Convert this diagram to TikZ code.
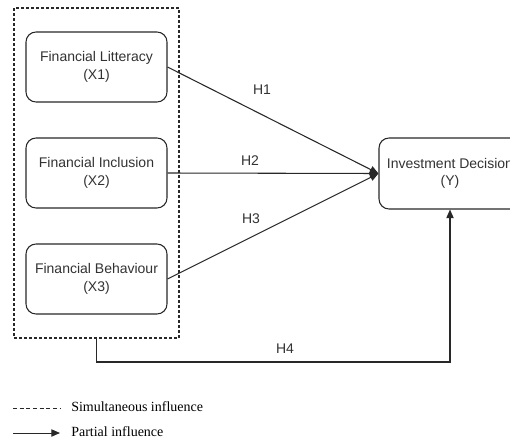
\documentclass[tikz,border=0pt]{standalone}
\usepackage{fontspec}
\setmainfont{Liberation Serif}
\setsansfont{Liberation Sans}
\usetikzlibrary{arrows.meta}

\begin{document}
\begin{tikzpicture}[x=0.75pt,y=-0.75pt]
        % Define colours
        \definecolor{linegrey}{RGB}{40,40,40}
        \definecolor{textgrey}{RGB}{50,50,50}
        % Define styles
        \tikzset{
            varbox/.style={draw=linegrey, line width=0.8pt, rounded corners=7.5pt,
                minimum width=105.75pt, minimum height=52.5pt, align=center,
                text=textgrey, font=\sffamily\fontsize{10.5}{13}\selectfont},
            hyp/.style={draw=linegrey, line width=0.8pt, -{Triangle[length=6.5pt,width=5.5pt]}},
            hlabel/.style={text=textgrey, font=\sffamily\fontsize{10.5}{13}\selectfont},
            legtext/.style={anchor=west, inner sep=0pt, font=\fontsize{10.5}{13}\selectfont}
        }
        \useasboundingbox (0,0) rectangle (510,439);

        % Draw the group of independent variables
        \node[draw=linegrey, dash pattern=on 2.25pt off 1.5pt, line width=0.8pt,
            minimum width=123.75pt, minimum height=247.5pt] (grp) at (96.5,173) {};
        \node[varbox] (x1) at (96.5,67) {Financial Litteracy\\(X1)};
        \node[varbox] (x2) at (96.5,173) {Financial Inclusion\\(X2)};
        \node[varbox] (x3) at (96.5,279) {Financial Behaviour\\(X3)};

        % Draw the dependent variable
        \node[varbox, minimum width=106.5pt, minimum height=53.25pt] (y) at (450,173.5) {Investment Decision\\(Y)};

        % Draw the partial paths
        \draw[hyp] (x1.east) -- (y.west);
        \draw[hyp] (x2.east) -- (y.west);
        \draw[hyp] (x3.east) -- (y.west);
        \node[hlabel] (h1) at (262,90) {H1};
        \node[hlabel] (h2) at (250,161) {H2};
        \node[hlabel] (h3) at (251,219) {H3};

        % Draw the simultaneous path
        \coordinate (bend) at (96.5,362);
        \draw[hyp] (grp.south) -- (bend) -| (y.south);
        \node[hlabel] (h4) at (285,349) {H4};

        % Draw the legend
        \coordinate (la) at (13,408);
        \coordinate (lb) at (60,408);
        \coordinate (pa) at (13,433);
        \coordinate (pb) at (60,433);
        \draw[linegrey, dash pattern=on 3pt off 2pt, line width=0.6pt] (la) -- (lb);
        \draw[hyp, line width=0.7pt] (pa) -- (pb);
        \node[legtext] (sim) at (71,407) {Simultaneous influence};
        \node[legtext] (par) at (71,432) {Partial influence};
\end{tikzpicture}
\end{document}
